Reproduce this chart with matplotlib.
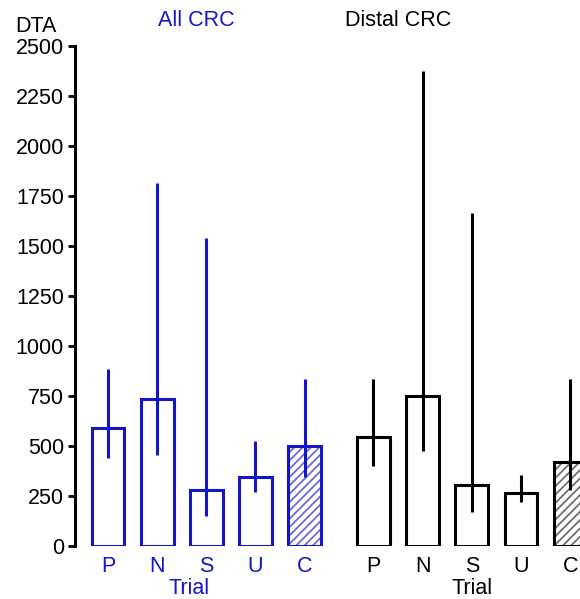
import matplotlib.pyplot as plt
import numpy as np

plt.rcParams['font.family'] = ['Liberation Sans', 'DejaVu Sans']
plt.rcParams['hatch.linewidth'] = 1.3

# data
trials = ['P', 'N', 'S', 'U', 'C']
all_crc = [591, 733, 278, 347, 502]
all_low = [440, 455, 150, 272, 347]
all_high = [885, 1815, 1540, 525, 834]
distal_crc = [547, 750, 305, 263, 418]
distal_low = [402, 475, 168, 218, 280]
distal_high = [834, 2375, 1665, 355, 834]

blue = '#1414c8'
black = '#000000'
fs = 15.5

fig = plt.figure(figsize=(5.8, 5.99), dpi=100)
ax = fig.add_axes([0.1293, 0.0885, 0.8707, 0.8347])

x_all = np.arange(len(trials))
x_dist = x_all + 5.4
width = 0.67


def draw_group(xs, vals, lows, highs, color, hatch_color):
    for i, (x, v) in enumerate(zip(xs, vals)):
        if trials[i] == 'C':
            # hatched control bar, hatch drawn lighter than the outline
            ax.bar(x, v, width, color='white', edgecolor=hatch_color,
                   hatch='////', linewidth=0, zorder=2)
            ax.bar(x, v, width, fill=False, edgecolor=color, linewidth=2.2, zorder=3)
        else:
            ax.bar(x, v, width, color='white', edgecolor=color, linewidth=2.2, zorder=3)
    ax.vlines(xs, lows, highs, color=color, linewidth=2.2, zorder=4)


draw_group(x_all, all_crc, all_low, all_high, blue, '#6a6ad8')
draw_group(x_dist, distal_crc, distal_low, distal_high, black, '#707070')

ax.set_ylim(0, 2500)
ax.set_xlim(-0.671, 9.6)
ax.set_yticks(np.arange(0, 2501, 250))
ax.tick_params(axis='y', labelsize=fs, width=2, length=5, direction='out', pad=3)
ax.tick_params(axis='x', length=0, labelsize=fs, pad=7)
ax.set_xticks(np.concatenate([x_all, x_dist]))
ax.set_xticklabels(trials + trials)
for i, lbl in enumerate(ax.get_xticklabels()):
    lbl.set_color(blue if i < 5 else black)

for s in ['top', 'right', 'bottom']:
    ax.spines[s].set_visible(False)
ax.spines['left'].set_linewidth(2.2)

ax.text(1.65, -0.085, 'Trial', transform=ax.get_xaxis_transform(), ha='center',
        va='center', fontsize=fs, color=blue)
ax.text(7.4, -0.085, 'Trial', transform=ax.get_xaxis_transform(), ha='center',
        va='center', fontsize=fs, color=black)

fig.text(196 / 580, 1 - 20 / 599, 'All CRC', ha='center', va='center', fontsize=fs, color=blue)
fig.text(398 / 580, 1 - 20 / 599, 'Distal CRC', ha='center', va='center', fontsize=fs, color=black)
fig.text(36 / 580, 1 - 27 / 599, 'DTA', ha='center', va='center', fontsize=fs, color=black)

fig.savefig('out.png', dpi=100, facecolor='white')
